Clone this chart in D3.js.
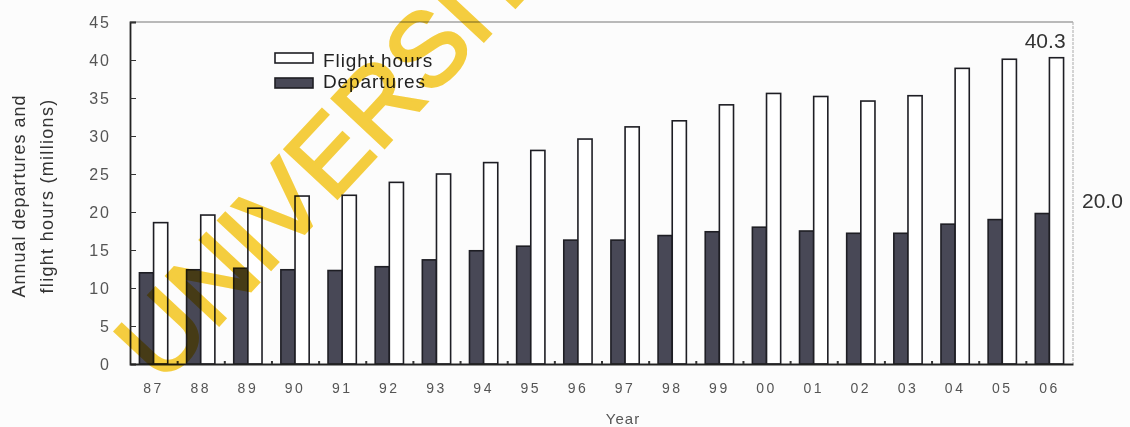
<!DOCTYPE html>
<html lang="en">
<head>
<meta charset="UTF-8">
<title>Annual departures and flight hours</title>
<script src="https://cdn.jsdelivr.net/npm/d3@7"></script>
<style>
  html, body { margin: 0; padding: 0; background: #fcfcfc; }
  svg { display: block; font-family: "Liberation Sans", Arial, sans-serif; }
</style>
</head>
<body>
<script>
    const w = 1130
    const h = 427

    // data (millions)
    const years = ["87", "88", "89", "90", "91", "92", "93", "94", "95", "96",
                   "97", "98", "99", "00", "01", "02", "03", "04", "05", "06"]
    const departures = [12.0, 12.4, 12.6, 12.4, 12.3, 12.8, 13.7, 14.9, 15.5, 16.3,
                        16.3, 16.9, 17.4, 18.0, 17.5, 17.2, 17.2, 18.4, 19.0, 19.8]
    const flightHours = [18.6, 19.6, 20.5, 22.1, 22.2, 23.9, 25.0, 26.5, 28.1, 29.6,
                         31.2, 32.0, 34.1, 35.6, 35.2, 34.6, 35.3, 38.9, 40.1, 40.3]
    const yTicks = [0, 5, 10, 15, 20, 25, 30, 35, 40, 45]
    const series = ["Departures", "Flight hours"]

    const pLeft = 130, pRight = 1073, pTop = 22, pBottom = 364

    const svg = d3.select("body").append("svg")
        .attr("width", w)
        .attr("height", h)

    const x = d3.scaleBand()
        .domain(years)
        .range([pLeft, pRight])
        .paddingInner(0.4)
        .paddingOuter(0.2)

    const xSub = d3.scaleBand()
        .domain(series)
        .range([0, x.bandwidth()])

    const y = d3.scaleLinear()
        .domain([0, 45])
        .range([pBottom, pTop])

    //frame lines
    svg.append("line")
        .attr("x1", pLeft).attr("x2", pRight)
        .attr("y1", pTop).attr("y2", pTop)
        .attr("stroke", "#777").attr("stroke-width", 1.2)
    svg.append("line")
        .attr("x1", pRight).attr("x2", pRight)
        .attr("y1", pTop).attr("y2", pBottom)
        .attr("stroke", "#aaa").attr("stroke-width", 1)
        .attr("stroke-dasharray", "3,1")

    const rows = years.map((yr, i) => ({ year: yr, values: [
        { key: "Departures", v: departures[i] },
        { key: "Flight hours", v: flightHours[i] }
    ]}))

    const groups = svg.append("g").selectAll("g")
        .data(rows)
        .join("g")
        .attr("transform", d => `translate(${x(d.year)},0)`)

    groups.selectAll("rect")
        .data(d => d.values)
        .join("rect")
        .attr("x", d => xSub(d.key))
        .attr("y", d => y(d.v))
        .attr("width", xSub.bandwidth())
        .attr("height", d => y(0) - y(d.v))
        .attr("fill", d => d.key === "Departures" ? "#484856" : "#ffffff")
        .attr("stroke", "#1e1e24")
        .attr("stroke-width", 1.6)

    //Y axis, ticks point inward
    const yAxis = d3.axisLeft(y).tickValues(yTicks).tickSize(-6).tickPadding(19)
    const gy = svg.append("g")
        .attr("transform", `translate(${pLeft},0)`)
        .call(yAxis)
    gy.select(".domain").attr("stroke", "#222").attr("stroke-width", 1.8)
    gy.selectAll(".tick line").attr("stroke", "#333")
    gy.selectAll("text")
        .attr("fill", "#555")
        .attr("font-size", 16)
        .attr("letter-spacing", 2)

    //X axis with year labels
    const xAxis = d3.axisBottom(x).tickSize(0).tickPadding(19)
    const gx = svg.append("g")
        .attr("transform", `translate(0,${pBottom})`)
        .call(xAxis)
    gx.select(".domain").attr("stroke", "#222").attr("stroke-width", 1.8)
    gx.selectAll("text")
        .attr("fill", "#555")
        .attr("font-size", 14)
        .attr("letter-spacing", 2.5)

    //small marks between year groups
    const xEdge = d3.scaleLinear().domain([0, years.length]).range([pLeft, pRight])
    const gEdge = svg.append("g")
        .attr("transform", `translate(0,${pBottom})`)
        .call(d3.axisBottom(xEdge).tickValues(d3.range(1, years.length)).tickSize(-3).tickFormat(""))
    gEdge.select(".domain").remove()
    gEdge.selectAll(".tick line").attr("stroke", "#333").attr("stroke-width", 2)

    //axis titles
    svg.append("text")
        .attr("transform", "translate(25,196) rotate(-90)")
        .attr("text-anchor", "middle")
        .attr("font-size", 18)
        .attr("letter-spacing", 1)
        .attr("fill", "#333")
        .text("Annual departures and")
    svg.append("text")
        .attr("transform", "translate(53,196) rotate(-90)")
        .attr("text-anchor", "middle")
        .attr("font-size", 18)
        .attr("letter-spacing", 1.3)
        .attr("fill", "#333")
        .text("flight hours (millions)")
    svg.append("text")
        .attr("x", 623).attr("y", 424)
        .attr("text-anchor", "middle")
        .attr("font-size", 15)
        .attr("letter-spacing", 1)
        .attr("fill", "#555")
        .text("Year")

    //value callouts for last year
    const last = years.length - 1
    svg.append("text")
        .attr("x", x(years[last]) + x.bandwidth() + 2)
        .attr("y", y(flightHours[last]) - 10)
        .attr("text-anchor", "end")
        .attr("font-size", 21)
        .attr("fill", "#333")
        .text(flightHours[last].toFixed(1))
    svg.append("text")
        .attr("x", pRight + 9)
        .attr("y", y(20) - 4)
        .attr("font-size", 21)
        .attr("fill", "#333")
        .text("20.0")

    //legend
    const legend = svg.append("g").attr("id", "legend")
    const legendItems = ["Flight hours", "Departures"]
    legendItems.forEach((name, i) => {
        legend.append("rect")
            .attr("x", 275).attr("y", 53 + i * 25)
            .attr("width", 38).attr("height", 10)
            .attr("fill", name === "Departures" ? "#484856" : "#ffffff")
            .attr("stroke", "#1e1e24").attr("stroke-width", 1.6)
        legend.append("text")
            .attr("x", 323).attr("y", 67 + i * 21)
            .attr("font-size", 19)
            .attr("letter-spacing", 0.9)
            .attr("fill", "#222")
            .text(name)
    })

    //watermark stamped over the scan, blended like ink
    svg.append("text")
        .attr("transform", "translate(162,386) rotate(-47)")
        .attr("font-size", 104)
        .attr("fill", "#f7cb2a")
        .attr("stroke", "#f7cb2a")
        .attr("stroke-width", 3)
        .attr("opacity", 0.9)
        .style("mix-blend-mode", "multiply")
        .text("UNIVERSITI")
</script>
</body>
</html>
